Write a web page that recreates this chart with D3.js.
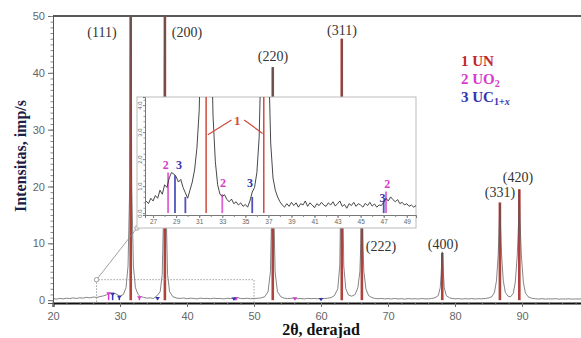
<!DOCTYPE html>
<html><head><meta charset="utf-8">
<script src="https://cdn.jsdelivr.net/npm/d3@7"></script>
<style>body{margin:0;background:#fff}svg{display:block}</style>
</head><body>
<svg id="c" width="581" height="338"></svg>
<script>
// ---------- DATA ----------
const mainTheta = [20,20.5,21,21.5,22,22.5,23,23.5,24,24.5,25,25.5,26,26.5,27,27.5,28,28.5,29,29.5,30,30.5,30.9,31.2,31.45,31.6,31.75,32.0,32.3,32.7,33,33.5,34,34.5,35,35.5,36,36.3,36.55,36.7,36.85,37.1,37.4,37.9,38.5,39,39.5,40,40.5,41,41.5,42,42.5,43,43.5,44,44.5,45,45.5,46,46.5,47,47.5,48,48.5,49,49.5,50,50.5,51,51.6,52.1,52.45,52.65,52.8,52.95,53.15,53.5,54,54.5,55,55.5,56,56.5,57,57.5,58,58.5,59,59.5,60,60.5,61,61.5,62,62.5,62.8,62.95,63.1,63.25,63.4,63.7,64.1,64.6,65.1,65.5,65.8,65.95,66.1,66.25,66.4,66.7,67.1,67.6,68,68.5,69,69.5,70,70.5,71,71.5,72,72.5,73,73.5,74,74.5,75,75.5,76,76.5,77,77.5,77.8,77.95,78.1,78.25,78.4,78.7,79.2,79.7,80,80.5,81,81.5,82,82.5,83,83.5,84,84.5,85,85.5,85.9,86.2,86.45,86.6,86.7,86.8,86.95,87.2,87.5,87.9,88.3,88.7,89.0,89.3,89.5,89.6,89.7,89.9,90.2,90.5,90.9,91.4,92,92.5,93,93.5,94,94.5,95,95.5,96,96.5,97,97.5,98,98.5,99,99.5,100];
const mainIntensity = [0.30,0.18,0.32,0.22,0.35,0.28,0.40,0.30,0.42,0.35,0.50,0.40,0.55,0.48,0.62,0.75,0.95,1.25,1.30,1.05,0.70,1.00,2.2,6,20,62,20,6,2.2,1.0,0.65,0.5,0.35,0.40,0.30,0.75,1.5,4.5,18,62,18,4.5,1.5,0.6,0.35,0.30,0.38,0.25,0.35,0.30,0.22,0.36,0.28,0.32,0.25,0.35,0.28,0.30,0.22,0.34,0.28,0.35,0.45,0.30,0.26,0.34,0.25,0.30,0.33,0.38,0.6,1.5,5,16,41,16,5,1.5,0.6,0.35,0.28,0.32,0.38,0.25,0.30,0.22,0.32,0.26,0.30,0.24,0.32,0.28,0.35,0.45,0.8,2.0,6,18,46,18,6,2.0,0.9,0.7,1.0,2.2,5,10,20,10,5,2.0,0.8,0.45,0.32,0.25,0.30,0.22,0.28,0.20,0.30,0.22,0.26,0.18,0.28,0.22,0.26,0.20,0.28,0.24,0.22,0.30,0.40,0.8,2.2,5,8.5,5,2.2,0.8,0.4,0.28,0.22,0.28,0.20,0.26,0.22,0.28,0.20,0.26,0.24,0.30,0.38,0.6,1.4,3.5,8,13,17,13,8,3.5,1.4,0.7,0.6,1.2,3.2,8,14,19.5,14,8,3.2,1.3,0.6,0.35,0.25,0.20,0.26,0.18,0.24,0.20,0.26,0.18,0.22,0.20,0.24,0.18,0.22,0.2,0.24,0.2,0.22];

// inset (zoomed) pattern: [2theta, intensity]
const insetPattern = [[26.4,0.45],[26.6,0.35],[26.8,0.55],[27.0,0.45],[27.2,0.65],[27.4,0.55],[27.6,0.85],[27.8,0.7],[28.0,1.05],[28.2,0.95],[28.4,1.3],[28.6,1.5],[28.8,1.45],[29.0,1.35],[29.2,1.15],[29.4,1.25],[29.6,0.95],[29.8,0.75],[30.0,0.55],[30.2,0.85],[30.4,1.15],[30.6,1.6],[30.8,2.4],[31.0,3.8],[31.2,7.5],[31.4,20],[31.6,60],[31.8,20],[32.0,7.5],[32.2,3.6],[32.4,1.9],[32.6,1.05],[32.8,0.7],[33.0,0.62],[33.2,0.68],[33.4,0.5],[33.6,0.42],[33.8,0.52],[34.0,0.35],[34.2,0.42],[34.4,0.3],[34.6,0.38],[34.8,0.25],[35.0,0.32],[35.2,0.22],[35.4,0.45],[35.6,0.78],[35.8,0.95],[36.0,1.5],[36.2,2.8],[36.4,6.5],[36.6,35],[36.8,30],[37.0,6],[37.2,2.6],[37.4,1.3],[37.6,0.85],[37.8,0.6],[38.0,0.42],[38.2,0.3],[38.4,0.22],[38.6,0.35],[38.8,0.25],[39.0,0.4],[39.2,0.28],[39.4,0.38],[39.6,0.22],[39.8,0.35],[40.0,0.3],[40.2,0.45],[40.4,0.25],[40.6,0.38],[40.8,0.3],[41.0,0.2],[41.2,0.35],[41.4,0.28],[41.6,0.4],[41.8,0.3],[42.0,0.25],[42.2,0.38],[42.4,0.3],[42.6,0.42],[42.8,0.26],[43.0,0.35],[43.2,0.45],[43.4,0.25],[43.6,0.32],[43.8,0.18],[44.0,0.35],[44.2,0.28],[44.4,0.4],[44.6,0.25],[44.8,0.35],[45.0,0.3],[45.2,0.22],[45.4,0.36],[45.6,0.28],[45.8,0.4],[46.0,0.26],[46.2,0.34],[46.4,0.22],[46.6,0.3],[46.8,0.28],[47.0,0.4],[47.2,0.55],[47.4,0.45],[47.6,0.6],[47.8,0.5],[48.0,0.42],[48.2,0.5],[48.4,0.35],[48.6,0.4],[48.8,0.3],[49.0,0.35],[49.2,0.25],[49.4,0.3],[49.6,0.22],[49.8,0.28]];

// reference lines (phase sticks)
const unTheta = [31.6,36.7,52.8,63.1,66.1,78.1,86.7,89.6];
const unHeight = [60,60,41,46,20,8.3,17.2,19.5];
const unHkl = ["(111)","(200)","(220)","(311)","(222)","(400)","(331)","(420)"];
const uo2Theta = [28.3,32.9,47.3,56.1];
const uo2Height = [1.2,0.5,0.35,0.35];
const ucTheta = [28.9,29.9,35.6,47.0,60.0];
const ucHeight = [1.1,0.6,0.4,0.3,0.2];

// inset sticks
const insetUnTheta = [31.6,36.6];
const insetUo2Theta = [28.3,33.0,47.2];
const insetUo2Height = [1.5,0.7,0.8];
const insetUcTheta = [28.9,29.8,35.6,47.0];
const insetUcHeight = [1.4,0.6,0.6,0.45];

const xTicks = [20,30,40,50,60,70,80,90,100];
const yTicks = [0,10,20,30,40,50];
const insetXTicks = [27,29,31,33,35,37,39,41,43,45,47,49];
const insetYTicks = [0,1,2,3,4];
const legendLabels = ["1 UN","2 UO","3 UC"];

// ---------- STYLE ----------
const RED = "#c0282d", MAG = "#d83ccc", BLUE = "#3434b0", STICK = "#b0423e";
const svg = d3.select("#c");

const x = d3.scaleLinear().domain([20,100]).range([53,589]);
const y = d3.scaleLinear().domain([-0.5,50]).range([303,16]);

svg.append("defs").append("clipPath").attr("id","mclip")
  .append("rect").attr("x",53).attr("y",16).attr("width",540).attr("height",287);

// top frame line
svg.append("line").attr("x1",53).attr("x2",581).attr("y1",16).attr("y2",16)
  .attr("stroke","#222").attr("stroke-width",1.5);

// axes
const gx = svg.append("g").attr("transform","translate(0,303)")
  .call(d3.axisBottom(x).tickValues(xTicks).tickSize(4).tickPadding(5).tickFormat(d3.format("d")));
gx.select(".domain").attr("stroke","#111").attr("stroke-width",2);
gx.selectAll("text").attr("font-family","Liberation Sans, Arial, sans-serif").attr("font-size",11).attr("fill","#666");
gx.selectAll("line").attr("stroke","#666");
svg.append("g").attr("transform","translate(0,303)")
  .call(d3.axisBottom(x).tickValues(d3.range(20,101,2)).tickSize(2).tickFormat(""))
  .call(g=>g.select(".domain").remove()).selectAll("line").attr("stroke","#777");

const gy = svg.append("g").attr("transform","translate(53,0)")
  .call(d3.axisLeft(y).tickValues(yTicks).tickSize(5).tickPadding(3));
gy.select(".domain").attr("stroke","#555").attr("stroke-width",1);
gy.selectAll("text").attr("font-family","Liberation Sans, Arial, sans-serif").attr("font-size",11).attr("fill","#666");
gy.selectAll("line").attr("stroke","#666");
svg.append("g").attr("transform","translate(53,0)")
  .call(d3.axisLeft(y).tickValues(d3.range(0,51,1)).tickSize(2.5).tickFormat(""))
  .call(g=>g.select(".domain").remove()).selectAll("line").attr("stroke","#888");

// axis titles
svg.append("text").attr("x",321).attr("y",335).attr("text-anchor","middle")
  .attr("font-family","Liberation Serif, Times New Roman, serif").attr("font-weight","bold").attr("font-size",16)
  .attr("fill","#111").text("2θ, derajad");
svg.append("text").attr("transform","translate(26,156) rotate(-90)").attr("text-anchor","middle")
  .attr("font-family","Liberation Serif, Times New Roman, serif").attr("font-weight","bold").attr("font-size",16)
  .attr("fill","#1b2146").text("Intensitas, imp/s");

// main plot
const mp = svg.append("g").attr("clip-path","url(#mclip)");
const mainData = mainTheta.map((t,i)=>[t,mainIntensity[i]]);
mp.selectAll(".un").data(unTheta).join("line")
  .attr("x1",d=>x(d)).attr("x2",d=>x(d)).attr("y1",y(0)).attr("y2",(d,i)=>y(unHeight[i]))
  .attr("stroke",STICK).attr("stroke-width",2.6);
mp.append("path").datum(mainData)
  .attr("d",d3.line().x(d=>x(d[0])).y(d=>y(d[1])))
  .attr("fill","none").attr("stroke","#555").attr("stroke-width",0.9).attr("stroke-opacity",0.8);
function smallSticks(th,h,col){
  mp.selectAll(null).data(th).join("line")
    .attr("x1",d=>x(d)).attr("x2",d=>x(d)).attr("y1",y(0)).attr("y2",(d,i)=>y(h[i]))
    .attr("stroke",col).attr("stroke-width",1.5);
  mp.selectAll(null).data(th).join("path")
    .attr("d",(d,i)=>{const px=x(d),py=y(h[i]);return `M${px-2.5},${py-1}L${px+2.5},${py-1}L${px},${py+2}Z`;})
    .attr("fill",col);
}
smallSticks(uo2Theta,uo2Height,MAG);
smallSticks(ucTheta,ucHeight,BLUE);

// hkl labels
const hklPos = [[102,37],[187,37],[273,61],[342,35],[381,251],[443,249],[500,197],[518,182]];
svg.selectAll(".hkl").data(unHkl).join("text")
  .attr("x",(d,i)=>hklPos[i][0]).attr("y",(d,i)=>hklPos[i][1]).attr("text-anchor","middle")
  .attr("font-family","Liberation Serif, Times New Roman, serif").attr("font-size",14).attr("fill","#333").text(d=>d);

// zoom region marker
const zx0 = 26.5, zx1 = 50, zy0 = 3.6;
svg.append("path").attr("d",`M${x(zx0)},${y(-0.3)}V${y(zy0)}H${x(zx1)}V${y(-0.3)}`)
  .attr("fill","none").attr("stroke","#888").attr("stroke-width",0.8).attr("stroke-dasharray","1.5,1.5");
svg.append("line").attr("x1",x(zx0)).attr("y1",y(zy0)).attr("x2",137).attr("y2",228)
  .attr("stroke","#888").attr("stroke-width",0.8);
[[x(zx0),y(zy0)],[137,228]].forEach(p=>svg.append("circle").attr("cx",p[0]).attr("cy",p[1]).attr("r",2.2)
  .attr("fill","#fff").attr("stroke","#888").attr("stroke-width",0.8));

// legend
const legCol = [RED,MAG,BLUE];
const leg = svg.append("g").attr("font-family","Liberation Serif, Times New Roman, serif").attr("font-weight","bold").attr("font-size",15);
legendLabels.forEach((l,i)=>{
  const t = leg.append("text").attr("x",461).attr("y",66+i*18).attr("fill",legCol[i]).text(l);
  if(i===1) t.append("tspan").attr("font-size",10).attr("dy",3).text("2");
  if(i===2){ t.append("tspan").attr("font-size",10).attr("dy",3).text("1+");
             t.append("tspan").attr("font-size",10).attr("font-style","italic").text("x"); }
});

// ---------- INSET ----------
const ix = d3.scaleLinear().domain([26.3,49.8]).range([145,416]);
const iy = d3.scaleLinear().domain([-0.07,4.3]).range([215,97]);
svg.append("rect").attr("x",137).attr("y",97).attr("width",279).attr("height",131)
  .attr("fill","#fff").attr("stroke","#bbb").attr("stroke-width",1);
svg.append("defs").append("clipPath").attr("id","iclip")
  .append("rect").attr("x",145).attr("y",97).attr("width",271).attr("height",118);
const ip = svg.append("g").attr("clip-path","url(#iclip)");
ip.selectAll(null).data(insetUnTheta).join("line")
  .attr("x1",d=>ix(d)).attr("x2",d=>ix(d)).attr("y1",iy(0)).attr("y2",90)
  .attr("stroke","#d04a3c").attr("stroke-width",1.5);
ip.selectAll(null).data(insetUo2Theta).join("line")
  .attr("x1",d=>ix(d)).attr("x2",d=>ix(d)).attr("y1",iy(0)).attr("y2",(d,i)=>iy(insetUo2Height[i]))
  .attr("stroke",MAG).attr("stroke-width",1.8).attr("stroke-opacity",0.8);
ip.selectAll(null).data(insetUcTheta).join("line")
  .attr("x1",d=>ix(d)).attr("x2",d=>ix(d)).attr("y1",iy(0)).attr("y2",(d,i)=>iy(insetUcHeight[i]))
  .attr("stroke",BLUE).attr("stroke-width",1.8).attr("stroke-opacity",0.85);
ip.append("path").datum(insetPattern)
  .attr("d",d3.line().x(d=>ix(d[0])).y(d=>iy(d[1])))
  .attr("fill","none").attr("stroke","#333").attr("stroke-width",0.9);

// inset axes
const igx = svg.append("g").attr("transform","translate(0,215)")
  .call(d3.axisBottom(ix).tickValues(insetXTicks).tickSize(3).tickPadding(1));
igx.select(".domain").attr("stroke","#777");
igx.selectAll("text").attr("font-family","Liberation Sans, Arial, sans-serif").attr("font-size",6.5).attr("fill","#666");
igx.selectAll("line").attr("stroke","#777");
svg.append("g").attr("transform","translate(0,215)")
  .call(d3.axisBottom(ix).tickValues(d3.range(27,50,1)).tickSize(2).tickFormat(""))
  .call(g=>g.select(".domain").remove()).selectAll("line").attr("stroke","#888");
const igy = svg.append("g").attr("transform","translate(145,0)")
  .call(d3.axisLeft(iy).tickValues(insetYTicks).tickSize(2).tickPadding(2));
igy.select(".domain").attr("stroke","#777");
igy.selectAll("line").attr("stroke","#777");
igy.selectAll("text").attr("font-family","Liberation Sans, Arial, sans-serif").attr("font-size",6).attr("fill","#666")
  .attr("text-anchor","middle").attr("x",0).attr("y",0).attr("dy",0)
  .attr("transform","translate(-3.5,0) rotate(-90)");
svg.append("g").attr("transform","translate(145,0)")
  .call(d3.axisLeft(iy).tickValues(d3.range(0,4.31,0.2)).tickSize(1.5).tickFormat(""))
  .call(g=>g.select(".domain").remove()).selectAll("line").attr("stroke","#999");

// inset annotations
const insetLab = [["2",28.1,1.62,MAG],["3",29.25,1.62,BLUE],["2",33.06,0.95,MAG],["3",35.4,0.95,BLUE],["2",47.3,0.92,MAG],["3",46.9,0.4,BLUE]];
svg.selectAll(".il").data(insetLab).join("text")
  .attr("x",d=>ix(d[1])).attr("y",d=>iy(d[2])).attr("text-anchor","middle")
  .attr("font-family","Liberation Serif, Times New Roman, serif").attr("font-weight","bold").attr("font-size",12)
  .attr("fill",d=>d[3]).text(d=>d[0]);
svg.append("text").attr("x",ix(34.3)).attr("y",iy(3.25)).attr("text-anchor","middle")
  .attr("font-family","Liberation Serif, Times New Roman, serif").attr("font-weight","bold").attr("font-size",13)
  .attr("fill","#d04a3c").text("1");
svg.append("path").attr("d",`M${ix(31.75)},${iy(2.9)}L${ix(33.8)},${iy(3.45)}M${ix(34.9)},${iy(3.45)}L${ix(36.5)},${iy(2.95)}`)
  .attr("stroke","#d04a3c").attr("stroke-width",1.2).attr("fill","none");
</script>
</body></html>
